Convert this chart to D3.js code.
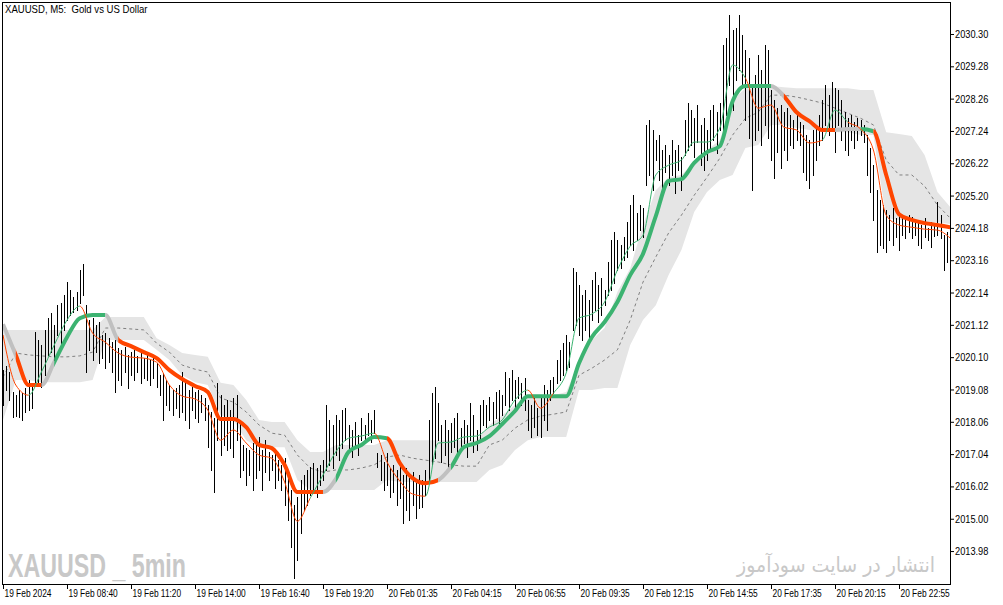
<!DOCTYPE html>
<html lang="en">
<head>
<meta charset="utf-8">
<style>
  body {margin: 0; background: #fff;}
  svg {display: block;}
  .title {white-space: pre;}
</style>
</head>
<body>
<svg id="chart" width="1003" height="605"></svg>
<script src="https://d3js.org/d3.v7.min.js"></script>
<script>
// ---- data: XAUUSD M5, 19-20 Feb 2024 ----

var timeLabels = ["19 Feb 2024", "19 Feb 08:40", "19 Feb 11:20", "19 Feb 14:00", "19 Feb 16:40",
  "19 Feb 19:20", "20 Feb 01:35", "20 Feb 04:15", "20 Feb 06:55", "20 Feb 09:35",
  "20 Feb 12:15", "20 Feb 14:55", "20 Feb 17:35", "20 Feb 20:15", "20 Feb 22:55"];

var yTicks = [2013.98, 2015.00, 2016.02, 2017.04, 2018.06, 2019.08, 2020.10, 2021.12, 2022.14,
  2023.16, 2024.18, 2025.20, 2026.22, 2027.24, 2028.26, 2029.28, 2030.30];

// bar highs / lows, one per bar
var barHigh = [
  2019.69, 2019.82, 2019.63, 2019.00, 2018.90, 2019.06, 2018.97, 2019.13, 2019.38, 2019.22,
  2020.90, 2020.64, 2020.48, 2020.96, 2021.33, 2021.49, 2021.11, 2021.74, 2021.81, 2022.06,
  2022.47, 2022.22, 2022.00, 2022.16, 2022.85, 2023.04, 2021.74, 2021.27, 2021.33, 2021.11,
  2021.21, 2020.80, 2020.86, 2020.70, 2020.57, 2020.64, 2020.39, 2020.33, 2020.42, 2020.17,
  2020.27, 2020.33, 2020.14, 2020.23, 2020.07, 2020.17, 2020.01, 2020.11, 2019.91, 2019.53,
  2019.60, 2019.38, 2019.22, 2019.06, 2019.13, 2019.22, 2019.63, 2019.38, 2019.06, 2019.16,
  2019.00, 2019.06, 2018.90, 2018.81, 2018.59, 2018.37, 2018.18, 2019.29, 2018.90, 2018.59,
  2018.75, 2018.43, 2018.81, 2018.90, 2018.12, 2017.33, 2017.23, 2017.17, 2017.39, 2017.33,
  2017.58, 2017.17, 2017.48, 2017.11, 2017.01, 2017.17, 2016.85, 2016.70, 2016.91, 2016.54,
  2015.91, 2015.43, 2015.68, 2016.22, 2016.38, 2016.54, 2016.63, 2016.76, 2016.60, 2016.70,
  2016.85, 2018.59, 2018.12, 2017.96, 2018.27, 2018.12, 2018.43, 2018.50, 2017.96, 2017.80,
  2018.05, 2017.64, 2018.18, 2017.96, 2018.34, 2018.12, 2018.43, 2017.07, 2017.01, 2016.79,
  2017.07, 2016.60, 2016.70, 2016.54, 2016.76, 2016.38, 2016.60, 2016.28, 2016.47, 2016.13,
  2016.38, 2016.22, 2016.54, 2018.12, 2018.97, 2019.16, 2018.65, 2017.96, 2018.12, 2017.80,
  2018.02, 2018.18, 2018.34, 2017.86, 2018.12, 2017.96, 2018.65, 2018.27, 2017.80, 2018.59,
  2018.75, 2018.59, 2018.84, 2018.68, 2019.00, 2019.06, 2018.90, 2019.63, 2019.44, 2019.69,
  2019.38, 2019.47, 2019.29, 2019.44, 2018.75, 2018.59, 2018.84, 2018.50, 2018.90, 2019.22,
  2019.06, 2019.38, 2019.47, 2020.01, 2020.33, 2020.55, 2020.80, 2020.57, 2022.91, 2022.79,
  2022.38, 2022.06, 2022.22, 2021.90, 2022.53, 2022.79, 2022.38, 2022.60, 2022.22, 2023.10,
  2023.80, 2024.05, 2023.80, 2023.64, 2023.89, 2024.36, 2024.90, 2025.22, 2024.65, 2024.90,
  2024.81, 2027.43, 2027.59, 2027.27, 2026.95, 2027.11, 2026.64, 2026.80, 2026.48, 2026.95,
  2026.64, 2026.80, 2026.42, 2027.59, 2028.12, 2027.90, 2027.65, 2028.06, 2027.43, 2027.65,
  2027.27, 2027.90, 2028.06, 2027.84, 2028.12, 2029.95, 2030.17, 2030.90, 2030.43, 2030.49,
  2030.90, 2030.27, 2029.80, 2029.54, 2028.59, 2029.00, 2029.64, 2029.16, 2029.95, 2029.80,
  2028.53, 2028.22, 2027.96, 2028.06, 2027.84, 2027.96, 2027.74, 2027.59, 2027.80, 2027.52,
  2027.43, 2027.11, 2026.95, 2027.27, 2027.33, 2027.74, 2028.22, 2028.69, 2028.37, 2028.78,
  2028.59, 2028.53, 2028.22, 2027.84, 2027.65, 2027.74, 2027.52, 2027.65, 2027.59, 2027.43,
  2027.11, 2026.70, 2026.16, 2025.37, 2025.06, 2024.90, 2024.74, 2024.59, 2024.81, 2024.49,
  2024.68, 2024.59, 2024.49, 2024.59, 2024.52, 2024.36, 2024.43, 2024.27, 2024.49, 2024.17,
  2024.36, 2024.27, 2024.99, 2024.59, 2023.96, 2024.05];

var barLow = [
  2018.59, 2019.06, 2018.75, 2018.21, 2018.24, 2018.21, 2018.12, 2018.37, 2018.43, 2018.50,
  2019.29, 2019.22, 2019.16, 2019.53, 2020.17, 2020.27, 2020.01, 2020.80, 2020.48, 2020.96,
  2021.27, 2021.43, 2021.52, 2021.59, 2021.81, 2022.06, 2019.63, 2020.33, 2020.01, 2020.27,
  2019.91, 2020.07, 2019.76, 2019.94, 2019.63, 2019.00, 2019.38, 2019.22, 2019.63, 2019.13,
  2019.53, 2019.38, 2019.63, 2019.29, 2019.44, 2019.38, 2019.22, 2019.44, 2019.16, 2018.90,
  2018.12, 2018.59, 2018.43, 2018.27, 2018.50, 2018.21, 2018.37, 2018.12, 2017.86, 2018.43,
  2018.18, 2018.05, 2018.37, 2018.12, 2017.26, 2016.54, 2015.84, 2017.48, 2017.01, 2017.33,
  2017.17, 2017.23, 2016.95, 2017.48, 2016.32, 2016.54, 2016.06, 2016.38, 2015.91, 2016.28,
  2016.54, 2015.91, 2016.47, 2016.22, 2016.54, 2015.97, 2016.22, 2015.91, 2015.43, 2014.96,
  2014.11, 2013.13, 2013.70, 2014.55, 2015.27, 2015.43, 2015.75, 2015.91, 2015.68, 2016.06,
  2016.22, 2016.54, 2016.70, 2016.60, 2017.01, 2016.85, 2017.23, 2017.48, 2017.17, 2016.95,
  2017.33, 2017.01, 2017.48, 2017.39, 2017.64, 2017.42, 2017.70, 2016.63, 2016.22, 2015.91,
  2016.06, 2015.68, 2015.84, 2015.43, 2015.65, 2014.86, 2015.27, 2014.96, 2015.43, 2015.02,
  2015.34, 2015.37, 2015.75, 2016.22, 2016.70, 2016.91, 2017.48, 2016.79, 2017.01, 2016.63,
  2017.11, 2017.26, 2017.01, 2017.17, 2017.39, 2016.95, 2017.48, 2017.11, 2017.17, 2017.48,
  2017.96, 2017.89, 2018.12, 2017.96, 2018.18, 2018.02, 2018.27, 2018.59, 2018.43, 2018.75,
  2018.53, 2018.81, 2018.59, 2018.43, 2017.80, 2017.58, 2017.89, 2017.64, 2017.58, 2018.12,
  2017.80, 2018.75, 2018.97, 2019.29, 2019.38, 2019.53, 2019.69, 2019.79, 2020.96, 2021.11,
  2020.80, 2020.64, 2020.96, 2020.70, 2021.27, 2021.59, 2021.21, 2021.43, 2021.74, 2022.06,
  2022.22, 2022.44, 2022.85, 2022.91, 2023.17, 2023.26, 2023.64, 2023.48, 2023.80, 2024.11,
  2023.89, 2025.53, 2025.85, 2025.37, 2026.32, 2025.69, 2025.37, 2025.94, 2025.53, 2025.85,
  2025.28, 2026.01, 2025.37, 2026.48, 2026.64, 2026.80, 2026.42, 2026.89, 2026.16, 2026.01,
  2026.32, 2026.64, 2026.95, 2026.54, 2027.27, 2027.27, 2027.74, 2028.69, 2027.90, 2028.85,
  2029.16, 2028.59, 2027.59, 2027.02, 2025.37, 2026.95, 2027.27, 2026.80, 2027.43, 2027.02,
  2026.32, 2025.75, 2026.57, 2026.07, 2026.64, 2026.32, 2026.80, 2026.70, 2026.95, 2026.80,
  2025.94, 2025.69, 2025.44, 2025.85, 2026.32, 2026.80, 2026.95, 2027.43, 2027.11, 2027.27,
  2026.57, 2027.43, 2026.95, 2026.64, 2026.48, 2026.95, 2026.70, 2026.95, 2027.11, 2026.89,
  2025.85, 2025.31, 2024.43, 2023.42, 2023.64, 2023.55, 2023.42, 2023.80, 2023.64, 2023.89,
  2023.48, 2023.96, 2023.86, 2024.05, 2023.86, 2023.96, 2023.64, 2023.55, 2023.89, 2023.80,
  2023.58, 2023.92, 2023.96, 2023.86, 2022.85, 2023.10];

// indicator values, one every 4 bars
var sampleStep = 4;

var bandUpper = [
  2020.96, 2020.96, 2020.96, 2020.96, 2020.96, 2020.96, 2020.96, 2020.96, 2021.37, 2021.37,
  2021.37, 2021.37, 2020.70, 2020.48, 2020.23, 2020.17, 2020.11, 2019.29, 2019.22, 2018.75,
  2018.12, 2018.05, 2018.05, 2017.48, 2017.11, 2017.11, 2017.33, 2017.33, 2017.33, 2017.33,
  2017.48, 2017.48, 2017.48, 2017.48, 2017.48, 2017.48, 2017.48, 2017.48, 2017.96, 2018.27,
  2018.59, 2018.84, 2018.90, 2018.90, 2019.00, 2019.94, 2020.64, 2021.02, 2022.16, 2022.91,
  2024.27, 2025.37, 2025.78, 2025.85, 2026.26, 2026.64, 2026.95, 2028.22, 2028.59, 2028.66,
  2028.66, 2028.62, 2028.59, 2028.59, 2028.59, 2028.59, 2028.59, 2028.53, 2028.53, 2027.20,
  2027.14, 2027.08, 2026.48, 2025.31, 2024.84];

var bandLower = [
  2018.12, 2019.38, 2019.38, 2019.31, 2019.31, 2019.31, 2019.31, 2019.38, 2020.64, 2020.64,
  2020.64, 2020.64, 2020.33, 2020.01, 2019.53, 2019.31, 2019.22, 2018.27, 2018.12, 2017.48,
  2017.26, 2017.26, 2017.26, 2016.22, 2015.91, 2015.91, 2015.91, 2015.91, 2015.91, 2015.91,
  2016.22, 2016.16, 2016.16, 2016.16, 2016.16, 2016.16, 2016.16, 2016.16, 2016.54, 2016.70,
  2017.17, 2017.48, 2017.58, 2017.58, 2017.58, 2019.06, 2019.06, 2019.13, 2019.13, 2020.48,
  2021.27, 2021.74, 2022.69, 2023.48, 2024.68, 2025.31, 2025.69, 2025.85, 2026.70, 2026.80,
  2027.43, 2027.43, 2027.33, 2027.27, 2027.27, 2027.20, 2027.20, 2027.11, 2027.11, 2024.49,
  2024.43, 2024.43, 2024.36, 2024.36, 2024.30];

var bandMid = [
  2019.47, 2020.23, 2020.17, 2020.14, 2020.11, 2020.11, 2020.14, 2020.26, 2021.02, 2021.02,
  2020.99, 2020.96, 2020.54, 2020.26, 2019.85, 2019.72, 2019.63, 2018.81, 2018.68, 2018.37,
  2017.96, 2017.70, 2017.64, 2017.01, 2016.60, 2016.47, 2016.54, 2016.54, 2016.60, 2016.70,
  2016.95, 2017.01, 2016.91, 2016.85, 2016.79, 2016.70, 2016.66, 2016.66, 2017.33, 2017.48,
  2017.86, 2018.12, 2018.24, 2018.30, 2018.37, 2019.53, 2019.75, 2020.01, 2020.33, 2021.27,
  2022.47, 2023.26, 2024.02, 2024.58, 2025.21, 2025.78, 2026.38, 2027.11, 2027.64, 2027.83,
  2028.37, 2028.37, 2028.31, 2028.22, 2028.12, 2027.96, 2027.80, 2027.64, 2027.43, 2026.32,
  2025.85, 2025.85, 2025.50, 2024.90, 2024.49];

// thick trend line; state u = rising, d = falling, n = neutral
var trendLine = [
  2021.14, 2020.17, 2019.22, 2019.22, 2019.94, 2020.73, 2021.33, 2021.43, 2021.43, 2020.64,
  2020.45, 2020.26, 2020.07, 2019.69, 2019.41, 2019.19, 2019.00, 2018.15, 2018.15, 2017.89,
  2017.33, 2017.23, 2016.70, 2015.84, 2015.84, 2015.84, 2016.25, 2017.11, 2017.33, 2017.58,
  2017.54, 2016.76, 2016.28, 2016.12, 2016.22, 2016.63, 2017.26, 2017.39, 2017.61, 2017.99,
  2018.40, 2018.87, 2018.87, 2018.87, 2018.87, 2019.91, 2020.73, 2021.21, 2021.84, 2022.69,
  2023.36, 2024.55, 2025.66, 2025.72, 2026.23, 2026.57, 2026.76, 2028.18, 2028.66, 2028.66,
  2028.66, 2028.34, 2027.83, 2027.55, 2027.27, 2027.27, 2027.30, 2027.30, 2027.23, 2025.85,
  2024.61, 2024.43, 2024.33, 2024.27, 2024.20];
var trendState = ("unddnuuuun" + "dddddddddd" + "ddddddnuuu" + "uddddnuuuu" + "uuuuuuuuuu" +
  "uuuuuuuuuu" + "unddddnnud" + "ddddd").split("");

// thin signal line
var signalLine = [
  2020.80, 2019.22, 2018.90, 2019.63, 2020.48, 2021.27, 2021.71, 2020.86, 2020.57, 2020.23,
  2020.10, 2020.07, 2019.94, 2019.22, 2018.87, 2018.78, 2018.43, 2017.48, 2017.80, 2017.39,
  2017.01, 2016.91, 2016.16, 2014.92, 2015.65, 2016.38, 2017.11, 2017.54, 2017.61, 2017.70,
  2016.79, 2016.19, 2015.78, 2015.71, 2017.39, 2017.42, 2017.58, 2017.61, 2017.89, 2018.12,
  2018.75, 2019.06, 2018.49, 2018.96, 2019.60, 2021.33, 2021.46, 2021.84, 2022.85, 2023.60,
  2023.95, 2025.85, 2026.16, 2026.32, 2026.89, 2026.89, 2027.33, 2029.32, 2028.91, 2027.96,
  2028.06, 2027.36, 2027.27, 2026.86, 2026.95, 2027.90, 2027.52, 2027.30, 2026.64, 2024.58,
  2024.27, 2024.20, 2024.14, 2024.11, 2023.86];
var signalState = ("ddduuuuddd" + "dddddddddd" + "ddddduuuuu" + "dddduuuuuu" + "uudduuuuuu" +
  "uuuuuuuuud" + "ddddduuddd" + "ddddd").split("");

// ---- drawing ----
var W = 1003, H = 605;
var plot = {left: 2, top: 2, right: 950, bottom: 584};
var stateColor = {u: "#3cb371", d: "#ff4500", n: "#c0c0c0"};
var font = "'Liberation Sans', Arial, sans-serif";

var x = d3.scaleLinear().domain([0, 280]).range([3, 899]);
var y = d3.scaleLinear().domain([2012.94, 2031.31]).range([plot.bottom, plot.top]);
var labelBars = d3.range(0, 281, 20);

var svg = d3.select("#chart");
var defs = svg.append("defs");
defs.append("clipPath").attr("id", "plotClip").append("rect")
    .attr("x", plot.left + 1).attr("y", plot.top + 1)
    .attr("width", plot.right - plot.left - 1).attr("height", plot.bottom - plot.top - 1);

var g = svg.append("g").attr("clip-path", "url(#plotClip)");

function sx(d, k) { return x(k * sampleStep); }

// shaded band
g.append("path")
    .datum(bandUpper)
    .attr("d", d3.area().x(sx).y0(function(d, k) { return y(bandLower[k]); }).y1(function(d) { return y(d); }))
    .attr("fill", "#e5e5e5");

// dashed middle
g.append("path")
    .datum(bandMid)
    .attr("d", d3.line().x(sx).y(function(d) { return y(d); }))
    .attr("fill", "none")
    .attr("stroke", "#808080")
    .attr("stroke-width", 1)
    .attr("stroke-dasharray", "3,3");

// price bars
g.append("g")
    .attr("shape-rendering", "crispEdges")
  .selectAll("line")
  .data(barHigh)
  .join("line")
    .attr("x1", function(d, i) { return Math.round(x(i)) + 0.5; })
    .attr("x2", function(d, i) { return Math.round(x(i)) + 0.5; })
    .attr("y1", function(d) { return Math.round(y(d)); })
    .attr("y2", function(d, i) { return Math.round(y(barLow[i])) + 1; })
    .attr("stroke", "#000")
    .attr("stroke-width", 1);

// a line whose colour follows its state, one clip per run of the same state
function colouredLine(values, states, strokeWidth, id) {
  var d = d3.line().x(sx).y(function(v) { return y(v); }).curve(d3.curveMonotoneX)(values);
  var runs = [];
  for (var k = 1; k < values.length; k++) {
    var last = runs[runs.length - 1];
    if (last && last.s === states[k]) last.end = k;
    else runs.push({s: states[k], start: k - 1, end: k});
  }
  runs.forEach(function(r, j) {
    var x0 = x(r.start * sampleStep), x1 = x(r.end * sampleStep);
    defs.append("clipPath").attr("id", id + j).append("rect")
        .attr("x", x0).attr("y", 0).attr("width", x1 - x0).attr("height", H);
    g.append("path")
        .attr("d", d)
        .attr("clip-path", "url(#" + id + j + ")")
        .attr("fill", "none")
        .attr("stroke", stateColor[r.s])
        .attr("stroke-width", strokeWidth)
        .attr("stroke-linejoin", "round");
  });
}

colouredLine(trendLine, trendState, 4, "trend");
colouredLine(signalLine, signalState, 1, "signal");

// squeeze text horizontally to match the narrow terminal font
function squeeze(sel, k) {
  sel.each(function() {
    var w = this.getComputedTextLength();
    d3.select(this).attr("textLength", w * k).attr("lengthAdjust", "spacingAndGlyphs");
  });
}

// watermarks
svg.append("text")
    .attr("x", 8).attr("y", 577)
    .attr("font-family", "'Liberation Sans Narrow', 'Liberation Sans', Arial, sans-serif")
    .attr("font-weight", "bold")
    .attr("font-size", 33)
    .attr("fill", "#c8c8c8")
    .attr("textLength", 178)
    .attr("lengthAdjust", "spacingAndGlyphs")
    .text("XAUUSD _ 5min");

svg.append("text")
    .attr("x", 737).attr("y", 572)
    .attr("font-family", "'DejaVu Sans', 'Noto Sans', sans-serif")
    .attr("font-size", 21)
    .attr("fill", "#c8c8c8")
    .attr("textLength", 198)
    .attr("lengthAdjust", "spacingAndGlyphs")
    .text("انتشار در سایت سودآموز");

// frame
svg.append("path")
    .attr("d", "M2.5,584.5V2.5H950.5V584.5H2")
    .attr("fill", "none")
    .attr("stroke", "#000")
    .attr("shape-rendering", "crispEdges");

// price axis
var yg = svg.append("g")
    .attr("transform", "translate(950,0)")
    .call(d3.axisRight(y).tickValues(yTicks).tickSize(4).tickPadding(1).tickFormat(d3.format(".2f")))
    .attr("font-family", font)
    .attr("font-size", 11);
yg.select(".domain").remove();
yg.selectAll("line").attr("stroke", "#000");
yg.selectAll("text").attr("fill", "#000").call(squeeze, 0.84);

// time axis
var xg = svg.append("g")
    .attr("transform", "translate(0,584)")
    .call(d3.axisBottom(x).tickValues(labelBars).tickSize(5).tickSizeOuter(0)
      .tickFormat(function(d, j) { return timeLabels[j]; }))
    .attr("font-family", font)
    .attr("font-size", 11);
xg.select(".domain").remove();
xg.selectAll("line").attr("stroke", "#000");
xg.selectAll("text")
    .attr("text-anchor", "start")
    .attr("x", 1)
    .attr("y", 13)
    .attr("dy", null)
    .attr("fill", "#000")
    .call(squeeze, 0.76);

// title
svg.append("text")
    .attr("class", "title")
    .attr("x", 5).attr("y", 13)
    .attr("font-family", font)
    .attr("font-size", 11)
    .attr("fill", "#000")
    .text("XAUUSD, M5:  Gold vs US Dollar")
    .call(squeeze, 0.87);
</script>
</body>
</html>
